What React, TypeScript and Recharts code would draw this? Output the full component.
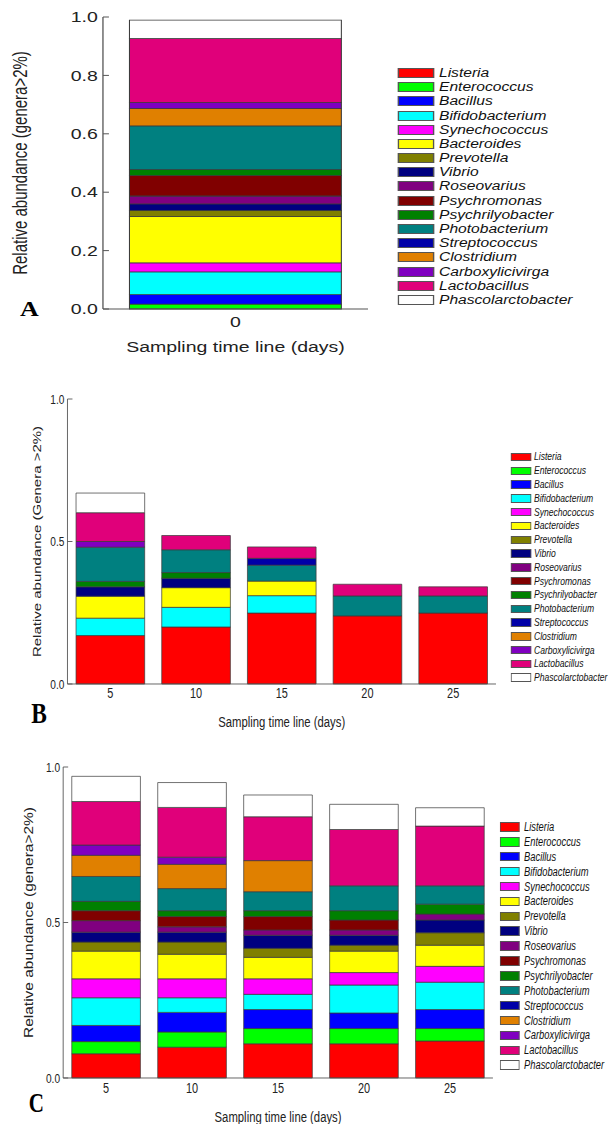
import React from 'react';
import { BarChart, Bar, XAxis, YAxis } from 'recharts';

const GENERA = [
  'Listeria', 'Enterococcus', 'Bacillus', 'Bifidobacterium', 'Synechococcus', 'Bacteroides',
  'Prevotella', 'Vibrio', 'Roseovarius', 'Psychromonas', 'Psychrilyobacter', 'Photobacterium',
  'Streptococcus', 'Clostridium', 'Carboxylicivirga', 'Lactobacillus', 'Phascolarctobacter',
];

const COLORS = [
  '#ff0000', '#00ff00', '#0000ff', '#00ffff', '#ff00ff', '#ffff00',
  '#808000', '#000080', '#800080', '#800000', '#008000', '#008080',
  '#0000a8', '#e08000', '#8000c0', '#e0007a', '#ffffff',
];

// segment heights, same order as GENERA
const daysA = ['0'];
const a0 = [0, 0.017, 0.032, 0.078, 0.031, 0.159, 0.02, 0.023, 0.027, 0.07, 0.02, 0.15, 0, 0.06, 0.02, 0.219, 0.063];

const daysBC = ['5', '10', '15', '20', '25'];
const b5 = [0.17, 0, 0, 0.061, 0, 0.077, 0, 0.033, 0, 0, 0.019, 0.12, 0, 0, 0.02, 0.101, 0.069];
const b10 = [0.2, 0, 0, 0.069, 0, 0.069, 0, 0.033, 0, 0, 0.02, 0.08, 0, 0, 0, 0.05, 0];
const b15 = [0.249, 0, 0, 0.061, 0, 0.051, 0, 0, 0, 0, 0, 0.056, 0.024, 0, 0, 0.04, 0];
const b20 = [0.239, 0, 0, 0, 0, 0, 0, 0, 0, 0, 0, 0.07, 0, 0, 0, 0.041, 0];
const b25 = [0.249, 0, 0, 0, 0, 0, 0, 0, 0, 0, 0, 0.06, 0, 0, 0, 0.032, 0];

const c5 = [0.078, 0.039, 0.052, 0.089, 0.061, 0.089, 0.029, 0.032, 0.037, 0.032, 0.03, 0.08, 0, 0.068, 0.033, 0.14, 0.081];
const c10 = [0.099, 0.049, 0.063, 0.047, 0.061, 0.079, 0.039, 0.032, 0.017, 0.033, 0.019, 0.071, 0, 0.078, 0.023, 0.16, 0.08];
const c15 = [0.11, 0.049, 0.061, 0.049, 0.05, 0.069, 0.029, 0.042, 0.017, 0.043, 0.019, 0.061, 0, 0.1, 0, 0.141, 0.07];
const c20 = [0.11, 0.049, 0.05, 0.09, 0.04, 0.069, 0.019, 0.032, 0.017, 0.032, 0.03, 0.08, 0, 0, 0, 0.181, 0.081];
const c25 = [0.119, 0.04, 0.061, 0.088, 0.051, 0.068, 0.04, 0.041, 0.019, 0, 0.032, 0.059, 0, 0, 0, 0.192, 0.059];

const ticksA = [0, 0.2, 0.4, 0.6, 0.8, 1.0];
const ticksBC = [0, 0.5, 1.0];

const toRows = (days: string[], cols: number[][]) =>
  days.map((d, i) => {
    const row: Record<string, any> = { day: d };
    GENERA.forEach((g, j) => { row[g] = cols[i][j]; });
    return row;
  });

const rowsA = toRows(daysA, [a0]);
const rowsB = toRows(daysBC, [b5, b10, b15, b20, b25]);
const rowsC = toRows(daysBC, [c5, c10, c15, c20, c25]);

const FONT = 'Arial, "Liberation Sans", sans-serif';

const YTick = (props: any) => {
  const { x, y, payload, fontSize, inner } = props;
  return (
    <g>
      <line x1={x + 4} x2={x + 4 + inner} y1={y} y2={y} stroke="#555" strokeWidth={1} />
      <text x={x} y={y} dy="0.35em" textAnchor="end" fontSize={fontSize} fill="#222" fontFamily={FONT}>
        {Number(payload.value).toFixed(1)}
      </text>
    </g>
  );
};

type PanelProps = {
  rows: any[];
  sx: number;
  top: number;
  height: number;
  margin: { top: number; right: number; bottom: number; left: number };
  yWidth: number;
  yLabel: string;
  yLabelOffset: number;
  yLabelSize: number;
  ticks: number[];
  yTickSize: number;
  xTickSize: number;
  innerTick: number;
  xHeight: number;
  xTickMargin: number;
  xLabelSize: number;
  legend: { left: number; top: number; rowH: number; swW: number; swH: number; gap: number; font: number };
  letter: { text: string; left: number; top: number; size: number };
};

const Panel = (p: PanelProps) => {
  const W = 608 / p.sx;
  return (
    <div style={{ position: 'absolute', left: 0, top: p.top, width: W, height: p.height, transform: `scaleX(${p.sx})`, transformOrigin: '0 0' }}>
      <BarChart width={W} height={p.height} data={p.rows} margin={p.margin} barCategoryGap="10%">
        <XAxis
          dataKey="day"
          height={p.xHeight}
          tickLine={false}
          tickSize={0}
          tickMargin={p.xTickMargin}
          axisLine={{ stroke: '#555' }}
          tick={{ fontSize: p.xTickSize, fill: '#222', fontFamily: FONT }}
          label={{ value: 'Sampling time line (days)', position: 'insideBottom', offset: 0, style: { fontSize: p.xLabelSize, fill: '#222', fontFamily: FONT } }}
        />
        <YAxis
          width={p.yWidth}
          domain={[0, 1]}
          ticks={p.ticks}
          interval={0}
          tickLine={false}
          tickSize={0}
          tickMargin={4}
          axisLine={{ stroke: '#555' }}
          tick={(tp: any) => <YTick {...tp} fontSize={p.yTickSize} inner={p.innerTick} />}
          label={{ value: p.yLabel, angle: -90, position: 'insideLeft', offset: p.yLabelOffset, style: { textAnchor: 'middle', fontSize: p.yLabelSize, fill: '#222', fontFamily: FONT } }}
        />
        {GENERA.map((g, i) => (
          <Bar key={g} dataKey={g} stackId="s" fill={COLORS[i]} stroke="#3a3a3a" strokeWidth={0.8} isAnimationActive={false} />
        ))}
      </BarChart>
      <div style={{ position: 'absolute', left: p.legend.left, top: p.legend.top, fontFamily: FONT }}>
        {GENERA.map((g, i) => (
          <div key={g} style={{ display: 'flex', alignItems: 'center', height: p.legend.rowH, whiteSpace: 'nowrap' }}>
            <div style={{ width: p.legend.swW, height: p.legend.swH, background: COLORS[i], border: '1px solid #555', boxSizing: 'border-box', marginRight: p.legend.gap }} />
            <span style={{ fontStyle: 'italic', fontSize: p.legend.font, color: '#111', lineHeight: 1 }}>{g}</span>
          </div>
        ))}
      </div>
      <div style={{ position: 'absolute', left: p.letter.left, top: p.letter.top, fontFamily: '"Liberation Serif", "Times New Roman", serif', fontWeight: 'bold', fontSize: p.letter.size, lineHeight: 1, color: '#000' }}>
        {p.letter.text}
      </div>
    </div>
  );
};

export default function App() {
  return (
    <div style={{ position: 'absolute', left: 0, top: 0, width: 608, height: 1124, background: '#fff', overflow: 'hidden' }}>
      <Panel
        rows={rowsA}
        sx={1.3}
        top={0}
        height={360}
        margin={{ top: 17, right: 184.6, bottom: 8, left: 4.2 }}
        yWidth={75}
        yLabel="Relative abundance (genera>2%)"
        yLabelOffset={11.2}
        yLabelSize={15}
        ticks={ticksA}
        yTickSize={15}
        xTickSize={15}
        innerTick={4.6}
        xHeight={43}
        xTickMargin={7}
        xLabelSize={15}
        legend={{ left: 306.2, top: 65.9, rowH: 14.2, swW: 27.7, swH: 10, gap: 3.8, font: 12 }}
        letter={{ text: 'A', left: 15.4, top: 299, size: 20 }}
      />
      <Panel
        rows={rowsB}
        sx={0.78}
        top={380}
        height={350}
        margin={{ top: 19, right: 143.6, bottom: 3, left: 16.5 }}
        yWidth={70}
        yLabel="Relative abundance (Genera >2%)"
        yLabelOffset={30.9}
        yLabelSize={15}
        ticks={ticksBC}
        yTickSize={13}
        xTickSize={14}
        innerTick={6.4}
        xHeight={43}
        xTickMargin={4}
        xLabelSize={14.5}
        legend={{ left: 655.1, top: 70.1, rowH: 13.8, swW: 25.6, swH: 8.5, gap: 3.9, font: 11 }}
        letter={{ text: 'B', left: 40, top: 318, size: 30 }}
      />
      <Panel
        rows={rowsC}
        sx={0.78}
        top={750}
        height={374}
        margin={{ top: 17, right: 147.5, bottom: 2, left: 11 }}
        yWidth={70}
        yLabel="Relative abundance (genera>2%)"
        yLabelOffset={26.2}
        yLabelSize={15.5}
        ticks={ticksBC}
        yTickSize={13}
        xTickSize={14}
        innerTick={6.4}
        xHeight={44}
        xTickMargin={5}
        xLabelSize={14.5}
        legend={{ left: 641, top: 69.5, rowH: 14.9, swW: 25, swH: 9.5, gap: 5.8, font: 12 }}
        letter={{ text: 'C', left: 37, top: 340, size: 27 }}
      />
    </div>
  );
}
